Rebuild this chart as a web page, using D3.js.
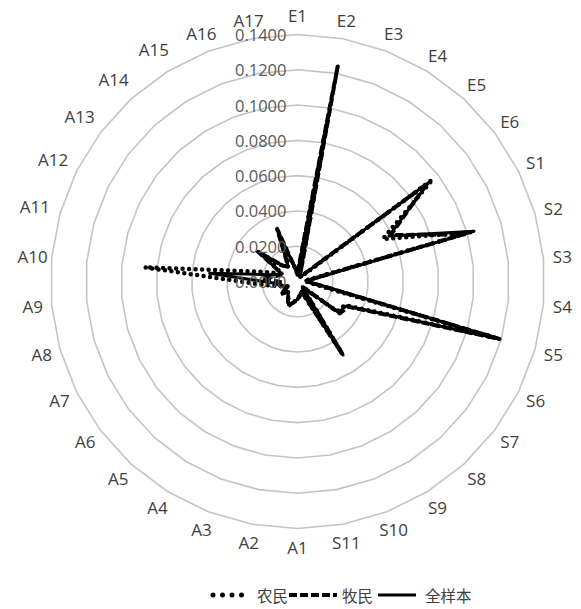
<!DOCTYPE html>
<html><head><meta charset="utf-8">
<script src="https://cdn.jsdelivr.net/npm/d3@7/dist/d3.min.js"></script>
<style>body{margin:0;background:#fff;}svg{display:block;}</style>
</head><body>
<svg id="c" width="581" height="609"></svg>
<script>
const categories = ["E1","E2","E3","E4","E5","E6","S1","S2","S3","S4","S5","S6","S7","S8","S9","S10","S11",
  "A1","A2","A3","A4","A5","A6","A7","A8","A9","A10","A11","A12","A13","A14","A15","A16","A17"];
const farmers = [0.004,0.092,0.004,0.003,0.005,0.096,0.054,0.102,0.004,0.006,0.118,0.030,0.028,0.004,0.048,0.006,0.008,
  0.010,0.012,0.014,0.010,0.008,0.010,0.006,0.010,0.020,0.087,0.020,0.010,0.020,0.012,0.010,0.020,0.008];
const herders = [0.005,0.124,0.004,0.003,0.006,0.092,0.059,0.098,0.005,0.008,0.119,0.032,0.030,0.004,0.049,0.006,0.008,
  0.010,0.012,0.015,0.010,0.008,0.012,0.006,0.010,0.008,0.020,0.012,0.010,0.028,0.012,0.010,0.032,0.008];
const total = [0.005,0.100,0.004,0.003,0.006,0.093,0.058,0.104,0.006,0.009,0.119,0.031,0.029,0.004,0.049,0.006,0.008,
  0.010,0.012,0.014,0.010,0.008,0.011,0.006,0.010,0.012,0.050,0.014,0.010,0.028,0.012,0.010,0.031,0.008];
const ringValues = [0,0.02,0.04,0.06,0.08,0.10,0.12,0.14];
const ringLabels = ["0.0000","0.0200","0.0400","0.0600","0.0800","0.1000","0.1200","0.1400"];
const seriesNames = ["农民","牧民","全样本"];

const svg = d3.select("#c");
const cx = 297.5, cy = 281.5, R = 247;
const r = d3.scaleLinear().domain([0,0.14]).range([0,R]);
const n = categories.length;
const ang = d3.scaleLinear().domain([0,n]).range([0,2*Math.PI]);
const g = svg.append("g").attr("transform",`translate(${cx},${cy})`);

// rings (polygonal)
const ringLine = d3.lineRadial().angle((d,i)=>ang(i)).curve(d3.curveLinearClosed);
ringValues.slice(1).forEach(v=>{
  g.append("path").attr("d", ringLine.radius(()=>r(v))(categories))
   .attr("fill","none").attr("stroke","#c4c4c4").attr("stroke-width",1.6);
});

const seriesStyle = [
  {data:farmers, width:4.5, dash:"0,6.5", cap:"round"},
  {data:herders, width:4, dash:"8,3", cap:"butt"},
  {data:total, width:3, dash:null, cap:"butt"}
];
const dataLine = d3.lineRadial().angle((d,i)=>ang(i)).radius(d=>r(d)).curve(d3.curveLinearClosed);
seriesStyle.forEach(s=>{
  g.append("path").attr("d", dataLine(s.data)).attr("fill","none")
   .attr("stroke","#000").attr("stroke-width",s.width)
   .attr("stroke-dasharray",s.dash).attr("stroke-linecap",s.cap).attr("stroke-linejoin","round");
});

// ring labels
ringValues.forEach((v,i)=>{
  g.append("text").attr("x",-11).attr("y",-r(v)).attr("text-anchor","end")
   .attr("dominant-baseline","central").attr("font-family","Open Sans, sans-serif")
   .attr("font-size",16.5).attr("fill","#595959").text(ringLabels[i]);
});

// category labels
categories.forEach((c,i)=>{
  const a = ang(i);
  const upperLeft = (a > 1.55*Math.PI && a < 1.88*Math.PI) ? 7 : 0;
  const LR = R + 19 + upperLeft;
  g.append("text").attr("x",LR*Math.sin(a)).attr("y",-LR*Math.cos(a))
   .attr("text-anchor","middle").attr("dominant-baseline","central")
   .attr("font-family","Open Sans, sans-serif").attr("font-size",17)
   .attr("fill","#404040").text(c);
});

// legend
const ly = 595;
const leg = svg.append("g");
const legItems = [
  {x1:213,x2:242,tx:257,style:{width:5,dash:"0,9.5",cap:"round"}},
  {x1:289,x2:337,tx:342,style:seriesStyle[1]},
  {x1:378,x2:416,tx:425,style:seriesStyle[2]}
];
legItems.forEach((it,i)=>{
  leg.append("line").attr("x1",it.x1).attr("x2",it.x2).attr("y1",ly).attr("y2",ly)
   .attr("stroke","#000").attr("stroke-width",it.style.width)
   .attr("stroke-dasharray",it.style.dash).attr("stroke-linecap",it.style.cap);
  leg.append("text").attr("x",it.tx).attr("y",ly).attr("dominant-baseline","central")
   .attr("font-family","Noto Sans CJK SC, sans-serif").attr("font-size",15.5)
   .attr("fill","#404040").text(seriesNames[i]);
});
</script>
</body></html>
